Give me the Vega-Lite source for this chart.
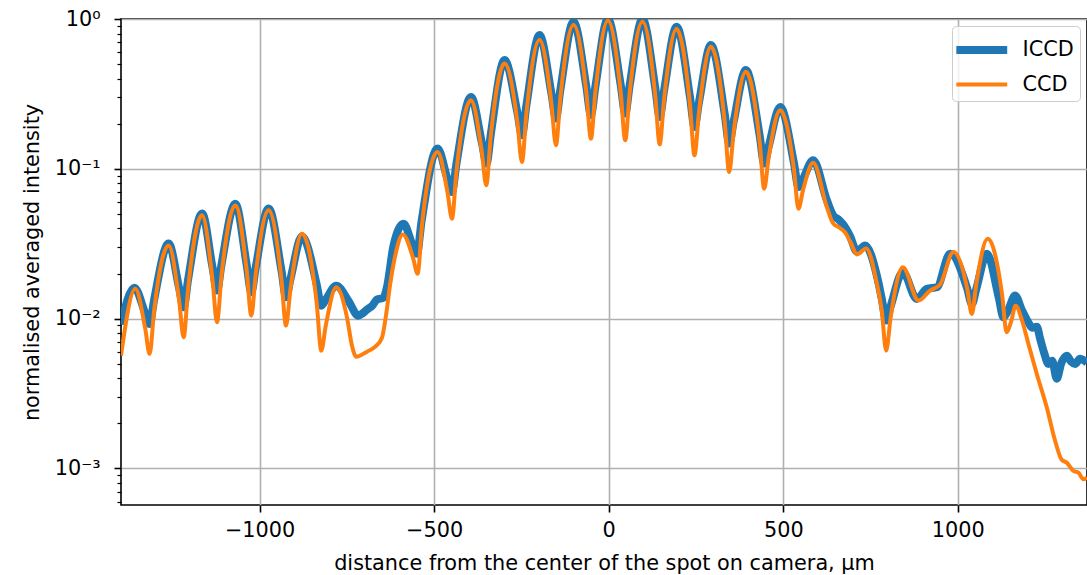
{
  "$schema": "https://vega.github.io/schema/vega-lite/v6.json",
  "width": 966,
  "height": 486,
  "autosize": {"type": "none"},
  "padding": {"left": 121, "top": 19, "right": 0, "bottom": 70},
  "background": "white",
  "config": {
    "font": "DejaVu Sans",
    "view": {"stroke": "black", "strokeWidth": 1.6},
    "axis": {
      "labelFont": "DejaVu Sans", "labelFontSize": 20.8, "labelColor": "black",
      "titleFont": "DejaVu Sans", "titleFontSize": 20.8, "titleFontWeight": "normal", "titleColor": "black",
      "tickColor": "black", "tickWidth": 1.6, "gridColor": "#b0b0b0", "gridWidth": 1.6,
      "domain": false, "labelFlush": false, "labelOverlap": false
    },
    "legend": {
      "orient": "none", "legendX": 831, "legendY": 7,
      "labelFont": "DejaVu Sans", "labelFontSize": 20.8, "labelColor": "black", "labelLimit": 0,
      "symbolType": "M-1.43,0H2.27", "symbolSize": 756, "padding": 6, "rowPadding": 2.5, "labelOffset": 28.5,
      "strokeColor": "#cccccc", "fillColor": "rgba(255,255,255,0.8)", "cornerRadius": 4
    }
  },
  "datasets": {
    "iccd": [
      {"x": -1397, "y": 0.00912, "series": "ICCD"},
      {"x": -1358.8, "y": 0.0161, "series": "ICCD"},
      {"x": -1327.9, "y": 0.0109, "series": "ICCD"},
      {"x": -1315.0, "y": 0.00921, "series": "ICCD"},
      {"x": -1302.1, "y": 0.01336, "series": "ICCD"},
      {"x": -1260.6, "y": 0.0317, "series": "ICCD"},
      {"x": -1230.5, "y": 0.016, "series": "ICCD"},
      {"x": -1217.6, "y": 0.0119, "series": "ICCD"},
      {"x": -1204.7, "y": 0.0183, "series": "ICCD"},
      {"x": -1164.9, "y": 0.0504, "series": "ICCD"},
      {"x": -1134.9, "y": 0.022, "series": "ICCD"},
      {"x": -1122.0, "y": 0.0154, "series": "ICCD"},
      {"x": -1109.1, "y": 0.023, "series": "ICCD"},
      {"x": -1069.6, "y": 0.0585, "series": "ICCD"},
      {"x": -1036.7, "y": 0.0226, "series": "ICCD"},
      {"x": -1023.8, "y": 0.015, "series": "ICCD"},
      {"x": -1010.9, "y": 0.0221, "series": "ICCD"},
      {"x": -974.2, "y": 0.0544, "series": "ICCD"},
      {"x": -937.3, "y": 0.0209, "series": "ICCD"},
      {"x": -924.4, "y": 0.0139, "series": "ICCD"},
      {"x": -911.5, "y": 0.0184, "series": "ICCD"},
      {"x": -878.6, "y": 0.0354, "series": "ICCD"},
      {"x": -836.2, "y": 0.0168, "series": "ICCD"},
      {"x": -823.3, "y": 0.0122, "series": "ICCD"},
      {"x": -810.4, "y": 0.0134, "series": "ICCD"},
      {"x": -780.4, "y": 0.0166, "series": "ICCD"},
      {"x": -746.0, "y": 0.0132, "series": "ICCD"},
      {"x": -717.4, "y": 0.01047, "series": "ICCD"},
      {"x": -705.9, "y": 0.0108, "series": "ICCD"},
      {"x": -692.4, "y": 0.01149, "series": "ICCD"},
      {"x": -677.3, "y": 0.0122, "series": "ICCD"},
      {"x": -663.8, "y": 0.0134, "series": "ICCD"},
      {"x": -644.9, "y": 0.0138, "series": "ICCD"},
      {"x": -634.3, "y": 0.0166, "series": "ICCD"},
      {"x": -616.3, "y": 0.0308, "series": "ICCD"},
      {"x": -587.6, "y": 0.043, "series": "ICCD"},
      {"x": -562.2, "y": 0.0311, "series": "ICCD"},
      {"x": -549.3, "y": 0.0271, "series": "ICCD"},
      {"x": -536.4, "y": 0.044, "series": "ICCD"},
      {"x": -490.3, "y": 0.1365, "series": "ICCD"},
      {"x": -461.9, "y": 0.0855, "series": "ICCD"},
      {"x": -449.0, "y": 0.07, "series": "ICCD"},
      {"x": -436.1, "y": 0.1085, "series": "ICCD"},
      {"x": -394.6, "y": 0.302, "series": "ICCD"},
      {"x": -362.8, "y": 0.1474, "series": "ICCD"},
      {"x": -349.9, "y": 0.1083, "series": "ICCD"},
      {"x": -337.1, "y": 0.1746, "series": "ICCD"},
      {"x": -298.4, "y": 0.532, "series": "ICCD"},
      {"x": -261.5, "y": 0.237, "series": "ICCD"},
      {"x": -248.6, "y": 0.1675, "series": "ICCD"},
      {"x": -235.7, "y": 0.266, "series": "ICCD"},
      {"x": -198.2, "y": 0.781, "series": "ICCD"},
      {"x": -164.1, "y": 0.3184, "series": "ICCD"},
      {"x": -151.2, "y": 0.2167, "series": "ICCD"},
      {"x": -138.3, "y": 0.339, "series": "ICCD"},
      {"x": -100.8, "y": 0.959, "series": "ICCD"},
      {"x": -63.9, "y": 0.351, "series": "ICCD"},
      {"x": -51.0, "y": 0.228, "series": "ICCD"},
      {"x": -38.1, "y": 0.3552, "series": "ICCD"},
      {"x": -2.3, "y": 1.0, "series": "ICCD"},
      {"x": 34.4, "y": 0.362, "series": "ICCD"},
      {"x": 47.3, "y": 0.234, "series": "ICCD"},
      {"x": 60.1, "y": 0.362, "series": "ICCD"},
      {"x": 96.8, "y": 1.0, "series": "ICCD"},
      {"x": 133.2, "y": 0.3487, "series": "ICCD"},
      {"x": 146.0, "y": 0.222, "series": "ICCD"},
      {"x": 158.9, "y": 0.3366, "series": "ICCD"},
      {"x": 194.4, "y": 0.888, "series": "ICCD"},
      {"x": 232.8, "y": 0.302, "series": "ICCD"},
      {"x": 245.7, "y": 0.1904, "series": "ICCD"},
      {"x": 258.6, "y": 0.2777, "series": "ICCD"},
      {"x": 292.7, "y": 0.67, "series": "ICCD"},
      {"x": 332.2, "y": 0.2322, "series": "ICCD"},
      {"x": 345.1, "y": 0.1474, "series": "ICCD"},
      {"x": 358.0, "y": 0.2069, "series": "ICCD"},
      {"x": 392.9, "y": 0.456, "series": "ICCD"},
      {"x": 432.4, "y": 0.1667, "series": "ICCD"},
      {"x": 445.3, "y": 0.1083, "series": "ICCD"},
      {"x": 458.2, "y": 0.1408, "series": "ICCD"},
      {"x": 491.1, "y": 0.259, "series": "ICCD"},
      {"x": 530.6, "y": 0.1093, "series": "ICCD"},
      {"x": 543.5, "y": 0.0756, "series": "ICCD"},
      {"x": 556.4, "y": 0.0855, "series": "ICCD"},
      {"x": 585.6, "y": 0.114, "series": "ICCD"},
      {"x": 624.9, "y": 0.0616, "series": "ICCD"},
      {"x": 642.9, "y": 0.0489, "series": "ICCD"},
      {"x": 658.1, "y": 0.046, "series": "ICCD"},
      {"x": 671.5, "y": 0.0425, "series": "ICCD"},
      {"x": 691.6, "y": 0.0354, "series": "ICCD"},
      {"x": 710.8, "y": 0.0281, "series": "ICCD"},
      {"x": 734.5, "y": 0.0308, "series": "ICCD"},
      {"x": 768.0, "y": 0.0194, "series": "ICCD"},
      {"x": 781.8, "y": 0.01371, "series": "ICCD"},
      {"x": 794.7, "y": 0.0097, "series": "ICCD"},
      {"x": 807.6, "y": 0.0121, "series": "ICCD"},
      {"x": 842.5, "y": 0.0204, "series": "ICCD"},
      {"x": 882.6, "y": 0.01354, "series": "ICCD"},
      {"x": 911.2, "y": 0.0158, "series": "ICCD"},
      {"x": 939.9, "y": 0.0162, "series": "ICCD"},
      {"x": 977.9, "y": 0.0271, "series": "ICCD"},
      {"x": 1027.2, "y": 0.0158, "series": "ICCD"},
      {"x": 1040.1, "y": 0.0125, "series": "ICCD"},
      {"x": 1053.0, "y": 0.0158, "series": "ICCD"},
      {"x": 1083.0, "y": 0.0271, "series": "ICCD"},
      {"x": 1117.7, "y": 0.01367, "series": "ICCD"},
      {"x": 1130.6, "y": 0.0102, "series": "ICCD"},
      {"x": 1143.5, "y": 0.01128, "series": "ICCD"},
      {"x": 1164.1, "y": 0.01425, "series": "ICCD"},
      {"x": 1184.1, "y": 0.01131, "series": "ICCD"},
      {"x": 1202.2, "y": 0.0094, "series": "ICCD"},
      {"x": 1212.8, "y": 0.0087, "series": "ICCD"},
      {"x": 1226.2, "y": 0.00884, "series": "ICCD"},
      {"x": 1235.7, "y": 0.00735, "series": "ICCD"},
      {"x": 1247.1, "y": 0.00592, "series": "ICCD"},
      {"x": 1259.5, "y": 0.00498, "series": "ICCD"},
      {"x": 1270.0, "y": 0.00524, "series": "ICCD"},
      {"x": 1283.5, "y": 0.00397, "series": "ICCD"},
      {"x": 1295.8, "y": 0.005, "series": "ICCD"},
      {"x": 1312.1, "y": 0.00566, "series": "ICCD"},
      {"x": 1324.5, "y": 0.00516, "series": "ICCD"},
      {"x": 1335.9, "y": 0.00498, "series": "ICCD"},
      {"x": 1350.2, "y": 0.0054, "series": "ICCD"},
      {"x": 1370.3, "y": 0.00508, "series": "ICCD"}
    ],
    "ccd": [
      {"x": -1397, "y": 0.00566, "series": "CCD"},
      {"x": -1356.0, "y": 0.0158, "series": "CCD"},
      {"x": -1327.9, "y": 0.00866, "series": "CCD"},
      {"x": -1315.0, "y": 0.00581, "series": "CCD"},
      {"x": -1302.1, "y": 0.01131, "series": "CCD"},
      {"x": -1260.6, "y": 0.0308, "series": "CCD"},
      {"x": -1230.5, "y": 0.0132, "series": "CCD"},
      {"x": -1217.6, "y": 0.0075, "series": "CCD"},
      {"x": -1204.7, "y": 0.0159, "series": "CCD"},
      {"x": -1164.9, "y": 0.0489, "series": "CCD"},
      {"x": -1134.9, "y": 0.0182, "series": "CCD"},
      {"x": -1122.0, "y": 0.00945, "series": "CCD"},
      {"x": -1109.1, "y": 0.0194, "series": "CCD"},
      {"x": -1069.6, "y": 0.057, "series": "CCD"},
      {"x": -1036.7, "y": 0.0206, "series": "CCD"},
      {"x": -1023.8, "y": 0.01047, "series": "CCD"},
      {"x": -1010.9, "y": 0.02, "series": "CCD"},
      {"x": -974.2, "y": 0.0528, "series": "CCD"},
      {"x": -937.3, "y": 0.0182, "series": "CCD"},
      {"x": -924.4, "y": 0.00898, "series": "CCD"},
      {"x": -911.5, "y": 0.0158, "series": "CCD"},
      {"x": -878.6, "y": 0.0369, "series": "CCD"},
      {"x": -836.2, "y": 0.0125, "series": "CCD"},
      {"x": -823.3, "y": 0.00611, "series": "CCD"},
      {"x": -810.4, "y": 0.00902, "series": "CCD"},
      {"x": -780.4, "y": 0.0162, "series": "CCD"},
      {"x": -749.7, "y": 0.0102, "series": "CCD"},
      {"x": -735.4, "y": 0.0066, "series": "CCD"},
      {"x": -723.1, "y": 0.00557, "series": "CCD"},
      {"x": -692.4, "y": 0.00602, "series": "CCD"},
      {"x": -668.7, "y": 0.0065, "series": "CCD"},
      {"x": -649.5, "y": 0.00746, "series": "CCD"},
      {"x": -637.2, "y": 0.0108, "series": "CCD"},
      {"x": -625.7, "y": 0.0172, "series": "CCD"},
      {"x": -611.4, "y": 0.0264, "series": "CCD"},
      {"x": -589.9, "y": 0.0365, "series": "CCD"},
      {"x": -560.4, "y": 0.0254, "series": "CCD"},
      {"x": -547.5, "y": 0.0199, "series": "CCD"},
      {"x": -534.7, "y": 0.0421, "series": "CCD"},
      {"x": -490.3, "y": 0.1295, "series": "CCD"},
      {"x": -461.9, "y": 0.07, "series": "CCD"},
      {"x": -449.0, "y": 0.0465, "series": "CCD"},
      {"x": -436.1, "y": 0.0962, "series": "CCD"},
      {"x": -394.6, "y": 0.287, "series": "CCD"},
      {"x": -363.7, "y": 0.131, "series": "CCD"},
      {"x": -350.8, "y": 0.0776, "series": "CCD"},
      {"x": -337.9, "y": 0.164, "series": "CCD"},
      {"x": -298.4, "y": 0.505, "series": "CCD"},
      {"x": -261.5, "y": 0.204, "series": "CCD"},
      {"x": -248.6, "y": 0.111, "series": "CCD"},
      {"x": -235.7, "y": 0.235, "series": "CCD"},
      {"x": -198.2, "y": 0.724, "series": "CCD"},
      {"x": -164.1, "y": 0.274, "series": "CCD"},
      {"x": -151.2, "y": 0.1436, "series": "CCD"},
      {"x": -138.3, "y": 0.301, "series": "CCD"},
      {"x": -100.8, "y": 0.912, "series": "CCD"},
      {"x": -63.9, "y": 0.32, "series": "CCD"},
      {"x": -51.0, "y": 0.159, "series": "CCD"},
      {"x": -38.1, "y": 0.328, "series": "CCD"},
      {"x": -2.3, "y": 0.974, "series": "CCD"},
      {"x": 34.4, "y": 0.3233, "series": "CCD"},
      {"x": 47.3, "y": 0.155, "series": "CCD"},
      {"x": 60.1, "y": 0.3214, "series": "CCD"},
      {"x": 96.8, "y": 0.959, "series": "CCD"},
      {"x": 133.2, "y": 0.3101, "series": "CCD"},
      {"x": 146.0, "y": 0.1458, "series": "CCD"},
      {"x": 158.9, "y": 0.2961, "series": "CCD"},
      {"x": 194.4, "y": 0.857, "series": "CCD"},
      {"x": 232.8, "y": 0.2676, "series": "CCD"},
      {"x": 245.7, "y": 0.1231, "series": "CCD"},
      {"x": 258.6, "y": 0.24, "series": "CCD"},
      {"x": 292.7, "y": 0.653, "series": "CCD"},
      {"x": 332.2, "y": 0.2056, "series": "CCD"},
      {"x": 345.1, "y": 0.0952, "series": "CCD"},
      {"x": 358.0, "y": 0.1763, "series": "CCD"},
      {"x": 392.9, "y": 0.444, "series": "CCD"},
      {"x": 432.4, "y": 0.151, "series": "CCD"},
      {"x": 445.3, "y": 0.0737, "series": "CCD"},
      {"x": 458.2, "y": 0.1194, "series": "CCD"},
      {"x": 491.1, "y": 0.2463, "series": "CCD"},
      {"x": 530.6, "y": 0.0992, "series": "CCD"},
      {"x": 543.5, "y": 0.0542, "series": "CCD"},
      {"x": 556.4, "y": 0.0718, "series": "CCD"},
      {"x": 585.6, "y": 0.1097, "series": "CCD"},
      {"x": 624.9, "y": 0.0555, "series": "CCD"},
      {"x": 642.9, "y": 0.0432, "series": "CCD"},
      {"x": 660.1, "y": 0.0406, "series": "CCD"},
      {"x": 677.3, "y": 0.0376, "series": "CCD"},
      {"x": 694.4, "y": 0.0317, "series": "CCD"},
      {"x": 710.8, "y": 0.0268, "series": "CCD"},
      {"x": 737.4, "y": 0.0294, "series": "CCD"},
      {"x": 768.0, "y": 0.0172, "series": "CCD"},
      {"x": 781.8, "y": 0.01149, "series": "CCD"},
      {"x": 794.7, "y": 0.00611, "series": "CCD"},
      {"x": 807.6, "y": 0.0102, "series": "CCD"},
      {"x": 842.5, "y": 0.022, "series": "CCD"},
      {"x": 887.2, "y": 0.0132, "series": "CCD"},
      {"x": 920.7, "y": 0.0154, "series": "CCD"},
      {"x": 949.3, "y": 0.0169, "series": "CCD"},
      {"x": 987.4, "y": 0.0278, "series": "CCD"},
      {"x": 1027.2, "y": 0.0157, "series": "CCD"},
      {"x": 1040.1, "y": 0.01075, "series": "CCD"},
      {"x": 1053.0, "y": 0.0171, "series": "CCD"},
      {"x": 1085.3, "y": 0.0341, "series": "CCD"},
      {"x": 1126.9, "y": 0.0144, "series": "CCD"},
      {"x": 1139.8, "y": 0.0081, "series": "CCD"},
      {"x": 1152.6, "y": 0.00955, "series": "CCD"},
      {"x": 1165.5, "y": 0.0122, "series": "CCD"},
      {"x": 1184.1, "y": 0.0097, "series": "CCD"},
      {"x": 1202.2, "y": 0.00677, "series": "CCD"},
      {"x": 1226.2, "y": 0.00427, "series": "CCD"},
      {"x": 1254.9, "y": 0.00255, "series": "CCD"},
      {"x": 1278.6, "y": 0.00153, "series": "CCD"},
      {"x": 1297.8, "y": 0.00114, "series": "CCD"},
      {"x": 1312.1, "y": 0.001093, "series": "CCD"},
      {"x": 1331.1, "y": 0.000962, "series": "CCD"},
      {"x": 1345.4, "y": 0.000937, "series": "CCD"},
      {"x": 1359.7, "y": 0.000847, "series": "CCD"},
      {"x": 1370.3, "y": 0.000868, "series": "CCD"}
    ]
  },
  "encoding": {
    "x": {
      "field": "x", "type": "quantitative",
      "scale": {"domain": [-1397, 1370], "nice": false, "zero": false},
      "axis": {
        "values": [-1000, -500, 0, 500, 1000],
        "labelExpr": "replace(format(datum.value, 'd'), '-', '−')",
        "title": "distance from the center of the spot on camera, μm",
        "grid": true, "tickSize": 7, "labelPadding": 8,
        "titleBaseline": "alphabetic", "titleY": 64
      }
    },
    "y": {
      "field": "y", "type": "quantitative",
      "scale": {"type": "log", "domain": [0.00057, 1], "nice": false},
      "axis": {
        "values": [0.0006, 0.0007, 0.0008, 0.0009, 0.001, 0.002, 0.003, 0.004, 0.005, 0.006, 0.007, 0.008, 0.009, 0.01, 0.02, 0.03, 0.04, 0.05, 0.06, 0.07, 0.08, 0.09, 0.1, 0.2, 0.3, 0.4, 0.5, 0.6, 0.7, 0.8, 0.9, 1],
        "labelExpr": "datum.value == 1 ? '10⁰' : datum.value == 0.1 ? '10⁻¹' : datum.value == 0.01 ? '10⁻²' : datum.value == 0.001 ? '10⁻³' : ''",
        "grid": true,
        "gridOpacity": {"condition": {"test": "indexof([1, 0.1, 0.01, 0.001], datum.value) >= 0", "value": 1}, "value": 0},
        "tickSize": {"condition": {"test": "indexof([1, 0.1, 0.01, 0.001], datum.value) >= 0", "value": 7}, "value": 4},
        "tickWidth": {"condition": {"test": "indexof([1, 0.1, 0.01, 0.001], datum.value) >= 0", "value": 1.6}, "value": 1.2},
        "labelPadding": 14,
        "title": "normalised averaged intensity",
        "titleX": -83, "titleY": 243, "titleAlign": "center", "titleBaseline": "alphabetic", "titleAngle": -90
      }
    },
    "color": {
      "field": "series", "type": "nominal",
      "scale": {"domain": ["ICCD", "CCD"], "range": ["#1f77b4", "#ff7f0e"]},
      "legend": {"title": null}
    },
    "strokeWidth": {
      "field": "series", "type": "nominal",
      "scale": {"domain": ["ICCD", "CCD"], "range": [8, 4]},
      "legend": {"title": null}
    }
  },
  "layer": [
    {"data": {"name": "iccd"}, "mark": {"type": "line", "interpolate": "monotone", "clip": true, "strokeJoin": "round"}},
    {"data": {"name": "ccd"}, "mark": {"type": "line", "interpolate": "monotone", "clip": true, "strokeJoin": "round"}}
  ]
}
